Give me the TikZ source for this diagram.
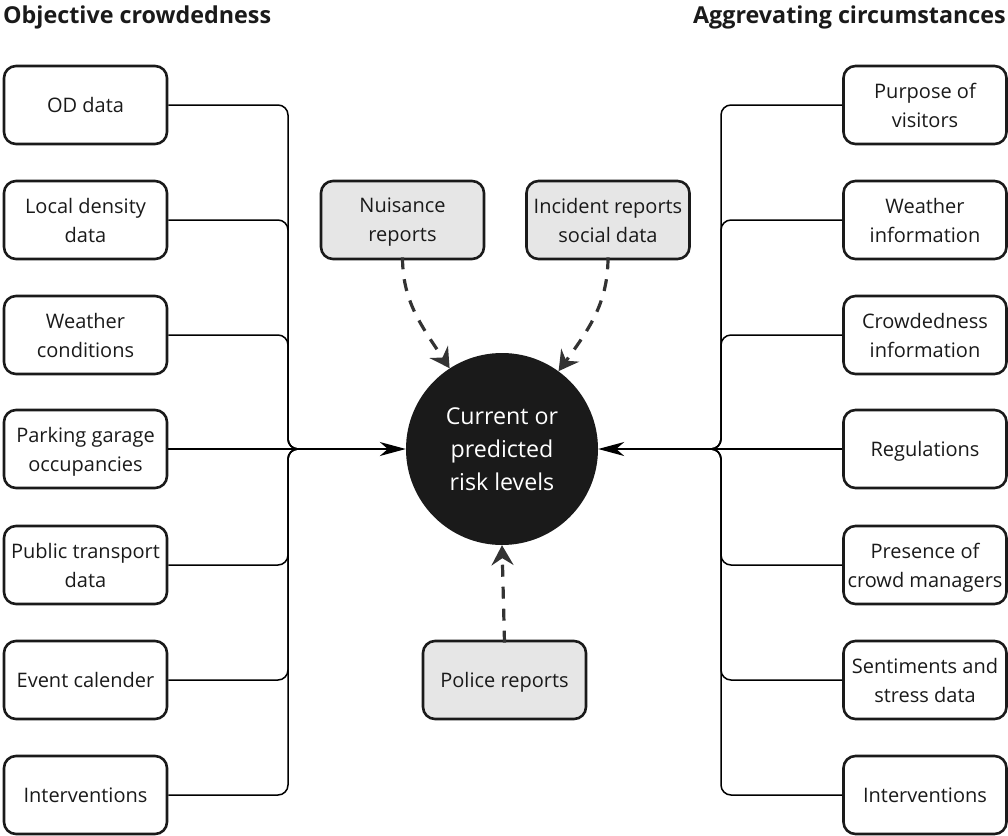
\documentclass[tikz,border=0pt]{standalone}
\usepackage{fontspec}
\setmainfont{Open Sans}
\usetikzlibrary{arrows.meta,bending}
\definecolor{edge}{HTML}{1A1A1A}
\definecolor{dash}{HTML}{333333}
\definecolor{greyfill}{HTML}{E6E6E6}
\newcommand\nodepth[1]{\raisebox{0pt}[\height][0pt]{#1}}
\begin{document}
\begin{tikzpicture}[x=1pt,y=-1pt,
  box/.style={draw=edge,line width=2.6pt,rounded corners=12pt,minimum width=163pt,minimum height=78pt,align=center,inner sep=0pt,font=\fontsize{20}{29}\selectfont,text=edge},
  greybox/.style={box,fill=greyfill},
  hub/.style={circle,fill=edge,minimum size=192pt,inner sep=0pt,align=center,text=white,font=\fontsize{23.2}{33}\selectfont,execute at begin node={\rule{0pt}{20pt}}},
  bus/.style={line width=1.5pt,draw=black,rounded corners=10pt},
  busarrow/.style={line width=1.5pt,draw=black,-{Stealth[length=26pt,width=14pt,inset=8pt]}},
  dashline/.style={line width=3.2pt,draw=dash,dash pattern=on 12pt off 10pt,-{Stealth[length=20pt,width=22pt,inset=7pt,bend]}},
  title/.style={font=\fontsize{23.3}{27}\selectfont\bfseries,text=edge,inner sep=0pt}]
\useasboundingbox (0,0) rectangle (1008,835);
\node[title,anchor=base west] (tl) at (3,23) {Objective crowdedness};
\node[title,anchor=base east] (tr) at (1006,23) {Aggrevating circumstances};
\node[hub] (c) at (502,449) {Current or\\predicted\\risk levels};
% left
\node[box] (l1) at (85.5,105) {OD data};
\node[box] (l2) at (85.5,220) {Local density\\data};
\node[box] (l3) at (85.5,335) {Weather\\conditions};
\node[box] (l4) at (85.5,449) {Parking garage\\\nodepth{occupancies}};
\node[box] (l5) at (85.5,565) {Public transport\\data};
\node[box] (l6) at (85.5,680) {Event calender};
\node[box] (l7) at (85.5,795) {Interventions};
% right
\node[box] (r1) at (925,105) {Purpose of\\visitors};
\node[box] (r2) at (925,220) {Weather\\information};
\node[box] (r3) at (925,335) {Crowdedness\\information};
\node[box] (r4) at (925,449) {\nodepth{Regulations}};
\node[box] (r5) at (925,565) {Presence of\\\nodepth{crowd managers}};
\node[box] (r6) at (925,680) {Sentiments and\\stress data};
\node[box] (r7) at (925,795) {Interventions};
% grey
\node[greybox] (g1) at (402.5,220) {Nuisance\\\nodepth{reports}};
\node[greybox] (g2) at (608,220) {Incident reports\\social data};
\node[greybox] (g3) at (504.5,680) {\nodepth{Police reports}};
% buses
\coordinate (jL) at (288,449);
\coordinate (jR) at (721,449);
\foreach \i in {1,2,3,5,6,7}{
  \draw[bus] (l\i.east) -| (jL) -- ++(40,0);
  \draw[bus] (r\i.west) -| (jR) -- ++(-40,0);
}
\draw[busarrow] (l4.east) -- (c);
\draw[busarrow] (r4.west) -- (c);
% dashed
\draw[dashline] ([yshift=3pt]g1.south) to[out=-90,in=123] (c.123);
\draw[dashline] ([yshift=3pt]g2.south) to[out=-90,in=54] (c.54);
\draw[dashline] ([yshift=-3pt]g3.north) -- (c.south);
\end{tikzpicture}
\end{document}
